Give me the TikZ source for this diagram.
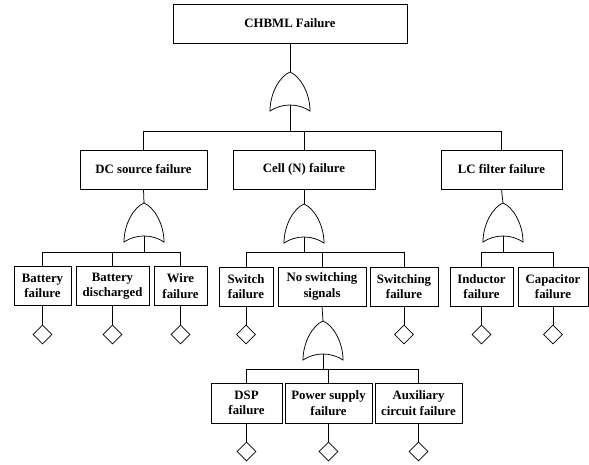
\documentclass[tikz,border=0pt]{standalone}
\usepackage{fontspec}
\setmainfont{Liberation Serif}
\usetikzlibrary{shapes.geometric}
\begin{document}
\begin{tikzpicture}[x=1pt,y=-1pt,
  line width=0.75pt,
  box/.style={draw, rectangle, inner sep=0pt, minimum height=39pt, align=center,
    font=\fontsize{12.8}{15.5}\selectfont\bfseries},
  leaf/.style={draw, diamond, minimum size=19pt, inner sep=0pt, aspect=1},
  orgate/.pic={
    \draw (-20,39) .. controls (-20,21) and (-10,4) .. (0,0)
          .. controls (10,4) and (20,21) .. (20,39)
          .. controls (8,31) and (-8,31) .. cycle;
    \coordinate (-top) at (0,0);
    \coordinate (-bot) at (0,33);
  }]
\useasboundingbox (0,0) rectangle (589,464);

% boxes
\node[box, minimum width=234pt] (top) at (290,23.5) {CHBML Failure};
\node[box, minimum width=127pt] (dc) at (143.5,169.5) {DC source failure};
\node[box, minimum width=142pt] (cell) at (304,169.5) {Cell (N) failure};
\node[box, minimum width=121pt] (lc) at (501.5,169.5) {LC filter failure};

\node[box, minimum width=57pt] (bf) at (42.5,286) {Battery\\failure};
\node[box, minimum width=73pt] (bd) at (112.5,286) {Battery\\discharged};
\node[box, minimum width=53pt] (wf) at (180.5,286) {Wire\\failure};
\node[box, minimum width=54pt] (sw) at (246,286.5) {Switch\\failure};
\node[box, minimum width=88pt] (ns) at (322,286.5) {No switching\\signals};
\node[box, minimum width=68pt] (sf) at (404,286.5) {Switching\\failure};
\node[box, minimum width=63pt] (ind) at (481.5,286.5) {Inductor\\failure};
\node[box, minimum width=70pt] (cap) at (553,286.5) {Capacitor\\failure};

\node[box, minimum width=71pt, minimum height=40pt] (dsp) at (246.5,403) {DSP\\failure};
\node[box, minimum width=87pt, minimum height=40pt] (ps) at (328.5,403) {Power supply\\failure};
\node[box, minimum width=87pt, minimum height=40pt] (aux) at (418.5,403) {Auxiliary\\circuit failure};

% gates
\pic (g1) at (290,72) {orgate};
\pic (g2) at (144,203) {orgate};
\pic (g3) at (304,204) {orgate};
\pic (g4) at (503,203) {orgate};
\pic (g5) at (323,321) {orgate};

% bus levels
\coordinate (b1) at (0,131);
\coordinate (b2) at (0,252);
\coordinate (b3) at (0,369);

% level 1
\draw (top.south) -- (g1-top);
\draw (g1-bot) -- (g1-bot |- b1);
\draw (dc.north) -- (dc.north |- b1) -| (lc.north);
\draw (cell.north) -- (cell.north |- b1);

% DC source
\draw (dc.south) -- (g2-top);
\draw (g2-bot) -- (g2-bot |- b2);
\draw (bf.north) -- (bf.north |- b2) -| (wf.north);
\draw (bd.north) -- (bd.north |- b2);

% Cell
\draw (cell.south) -- (g3-top);
\draw (g3-bot) -- (g3-bot |- b2);
\draw (sw.north) -- (sw.north |- b2) -| (sf.north);
\draw (ns.north) -- (ns.north |- b2);

% LC
\draw (lc.south) -- (g4-top);
\draw (g4-bot) -- (g4-bot |- b2);
\draw (ind.north) -- (ind.north |- b2) -| (cap.north);

% No switching signals
\draw (ns.south) -- (g5-top);
\draw (g5-bot) -- (g5-bot |- b3);
\draw (dsp.north) -- (dsp.north |- b3) -| (aux.north);
\draw (ps.north) -- (ps.north |- b3);

% basic events
\foreach \n/\x in {bf/42.5, bd/112.5, wf/180.5, sw/246, sf/404, ind/481.5, cap/553} {
  \node[leaf] (d\n) at (\x,334.5) {};
  \draw (\n.south) -- (d\n.north);
}
\foreach \n/\x in {dsp/246.5, ps/328.5, aux/418.5} {
  \node[leaf] (d\n) at (\x,451.5) {};
  \draw (\n.south) -- (d\n.north);
}
\end{tikzpicture}
\end{document}
